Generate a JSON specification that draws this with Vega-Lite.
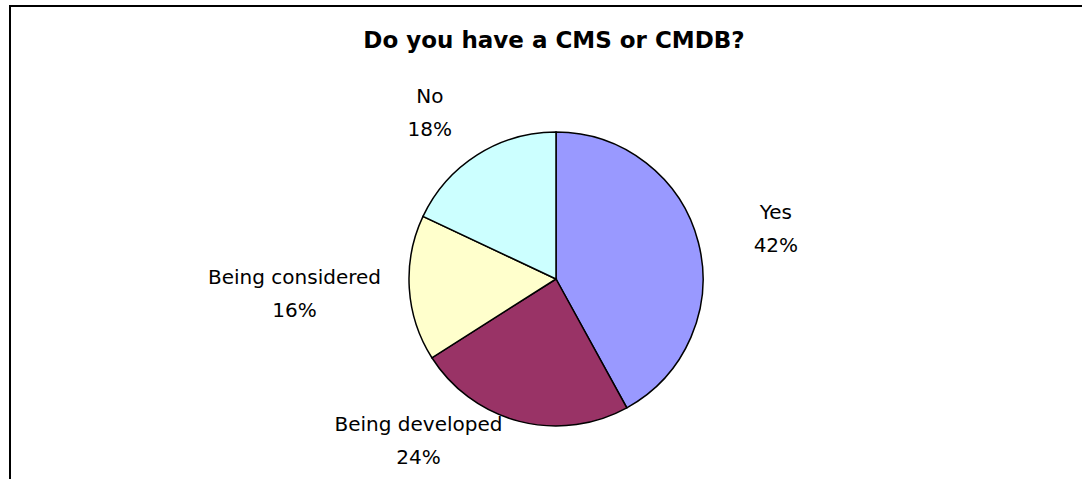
{
  "$schema": "https://vega.github.io/schema/vega-lite/v6.json",
  "width": 1072,
  "height": 473,
  "autosize": "none",
  "padding": {"left": 10, "top": 6, "right": 0, "bottom": 0},
  "background": "white",
  "view": {"stroke": "black", "strokeWidth": 2, "fill": "white", "strokeDash": [1072, 1545, 475, 0]},
  "config": {
    "font": "DejaVu Sans"
  },
  "title": {
    "text": "Do you have a CMS or CMDB?",
    "font": "DejaVu Sans",
    "fontSize": 23,
    "fontWeight": "bold",
    "color": "black",
    "offset": -47,
    "dx": 8
  },
  "data": {
    "values": [
      {"answer": "Yes", "value": 42, "order": 1, "label": "Yes\n42%"},
      {"answer": "Being developed", "value": 24, "order": 2, "label": "Being developed\n24%"},
      {"answer": "Being considered", "value": 16, "order": 3, "label": "Being considered\n16%"},
      {"answer": "No", "value": 18, "order": 4, "label": "No\n18%"}
    ]
  },
  "encoding": {
    "theta": {"field": "value", "type": "quantitative", "stack": true},
    "order": {"field": "order", "type": "quantitative"}
  },
  "layer": [
    {
      "mark": {"type": "arc", "x": {"expr": "width/2 + 10"}, "y": {"expr": "height/2 + 36.5"}, "outerRadius": 147, "stroke": "black", "strokeWidth": 1.5},
      "encoding": {
        "color": {
          "field": "answer",
          "type": "nominal",
          "scale": {
            "domain": ["Yes", "Being developed", "Being considered", "No"],
            "range": ["#9999FF", "#993366", "#FFFFCC", "#CCFFFF"]
          },
          "legend": null
        }
      }
    },
    {
      "mark": {"type": "text", "x": {"expr": "width/2 + 10"}, "y": {"expr": "height/2 + 36.5"}, "radius": 227, "dy": -10, "fontSize": 20, "lineBreak": "\n", "lineHeight": 33, "align": "center", "baseline": "middle", "color": "black"},
      "encoding": {"text": {"condition": {"test": "datum.answer === 'Yes'", "field": "label"}, "value": ""}}
    },
    {
      "mark": {"type": "text", "x": {"expr": "width/2 + 10"}, "y": {"expr": "height/2 + 36.5"}, "radius": 167, "dx": -96, "dy": -16, "fontSize": 20, "lineBreak": "\n", "lineHeight": 33, "align": "center", "baseline": "middle", "color": "black"},
      "encoding": {"text": {"condition": {"test": "datum.answer === 'Being developed'", "field": "label"}, "value": ""}}
    },
    {
      "mark": {"type": "text", "x": {"expr": "width/2 + 10"}, "y": {"expr": "height/2 + 36.5"}, "radius": 262, "dy": -17, "fontSize": 20, "lineBreak": "\n", "lineHeight": 33, "align": "center", "baseline": "middle", "color": "black"},
      "encoding": {"text": {"condition": {"test": "datum.answer === 'Being considered'", "field": "label"}, "value": ""}}
    },
    {
      "mark": {"type": "text", "x": {"expr": "width/2 + 10"}, "y": {"expr": "height/2 + 36.5"}, "radius": 200, "dx": -19, "dy": -13, "fontSize": 20, "lineBreak": "\n", "lineHeight": 33, "align": "center", "baseline": "middle", "color": "black"},
      "encoding": {"text": {"condition": {"test": "datum.answer === 'No'", "field": "label"}, "value": ""}}
    }
  ]
}
